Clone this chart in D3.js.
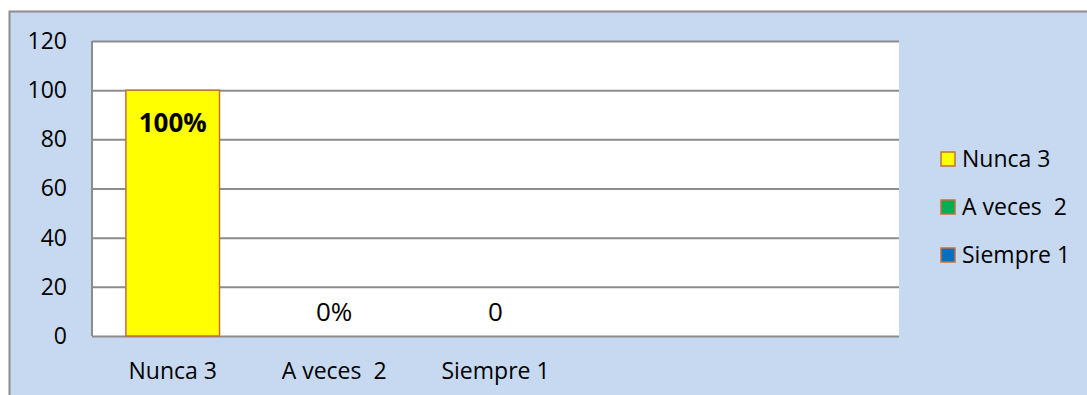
<html>
<head>
  <script src="https://d3js.org/d3.v7.min.js"></script>
  <style>
    body { margin: 0; background: #fff; }
    text { font-family: "Open Sans", "Noto Sans", sans-serif; fill: #000; }
    .gridlines line { stroke: #8c8c8c; stroke-width: 2; }
    .gridlines .domain { stroke: none; }
    .axis .domain, .axis line { stroke: none; }
  </style>
</head>
<body>
  <svg id="p" width="1087" height="395"></svg>
  <script>
    // data
    const categories = ["Nunca 3", "A veces  2", "Siempre 1"];
    const values = [100, 0, 0];
    const valueLabels = ["100%", "0%", "0"];
    const colors = ["#ffff00", "#00b050", "#0070c0"];
    const yTicks = [0, 20, 40, 60, 80, 100, 120];

    const svg = d3.select("svg#p");
    const margin = {top: 41, left: 92, right: 188, bottom: 59};
    const chartWidth = 1087 - margin.left - margin.right;
    const chartHeight = 395 - margin.top - margin.bottom;

    // outer chart frame
    svg.append("rect")
       .attr("x", 9.5).attr("y", 11.5)
       .attr("width", 1100).attr("height", 400)
       .attr("fill", "#c6d9f1")
       .attr("stroke", "#8c8c8c").attr("stroke-width", 2);

    const chart = svg.append("g")
                     .attr("transform", "translate(" + margin.left + "," + margin.top + ")");

    chart.append("rect")
         .attr("width", chartWidth).attr("height", chartHeight)
         .attr("fill", "#fff");

    const yScale = d3.scaleLinear().domain([0, 120]).range([chartHeight, 0]);
    const step = chartWidth / 5;
    const xScale = d3.scaleBand().domain(categories)
                     .range([0, step * categories.length])
                     .paddingInner(0.42).paddingOuter(0.21);

    const leftGridlines = d3.axisLeft(yScale).tickValues(yTicks)
                            .tickSize(-chartWidth).tickFormat("");
    chart.append("g").attr("class", "gridlines").call(leftGridlines);

    // plot area left edge
    chart.append("line")
         .attr("x1", 0).attr("x2", 0).attr("y1", 0).attr("y2", chartHeight)
         .attr("stroke", "#8c8c8c").attr("stroke-width", 2);

    chart.selectAll("rect.bar").data(values)
         .join("rect")
         .attr("class", "bar")
         .attr("x", (d, i) => xScale(categories[i]))
         .attr("y", d => yScale(d))
         .attr("width", xScale.bandwidth())
         .attr("height", d => chartHeight - yScale(d))
         .attr("fill", (d, i) => colors[i])
         .attr("stroke", "#c0703c").attr("stroke-width", 1.5);

    chart.selectAll("text.vlabel").data(values)
         .join("text")
         .attr("class", "vlabel")
         .attr("x", (d, i) => xScale(categories[i]) + xScale.bandwidth() / 2)
         .attr("y", d => d > 0 ? yScale(d) + 42 : yScale(d) - 15)
         .attr("text-anchor", "middle")
         .style("font-size", "26px")
         .style("font-weight", (d, i) => i === 0 ? "bold" : "normal")
         .text((d, i) => valueLabels[i]);

    const leftAxis = d3.axisLeft(yScale).tickValues(yTicks).tickSize(0).tickPadding(25);
    chart.append("g").attr("class", "axis").call(leftAxis)
         .selectAll("text").style("font-size", "23px");

    const bottomAxis = d3.axisBottom(xScale).tickSize(0).tickPadding(27);
    chart.append("g").attr("class", "axis")
         .attr("transform", "translate(0," + chartHeight + ")")
         .call(bottomAxis)
         .selectAll("text").style("font-size", "23px")
         .attr("xml:space", "preserve");

    // legend
    const legend = svg.append("g").attr("transform", "translate(941,152)");
    categories.forEach((c, i) => {
      const row = legend.append("g").attr("transform", "translate(0," + (i * 48) + ")");
      row.append("rect").attr("width", 14).attr("height", 14)
         .attr("fill", colors[i]).attr("stroke", "#c0703c").attr("stroke-width", 1.5);
      row.append("text").attr("x", 21).attr("y", 7).attr("dy", "0.36em")
         .style("font-size", "23px").attr("xml:space", "preserve").text(c);
    });
  </script>
</body>
</html>
